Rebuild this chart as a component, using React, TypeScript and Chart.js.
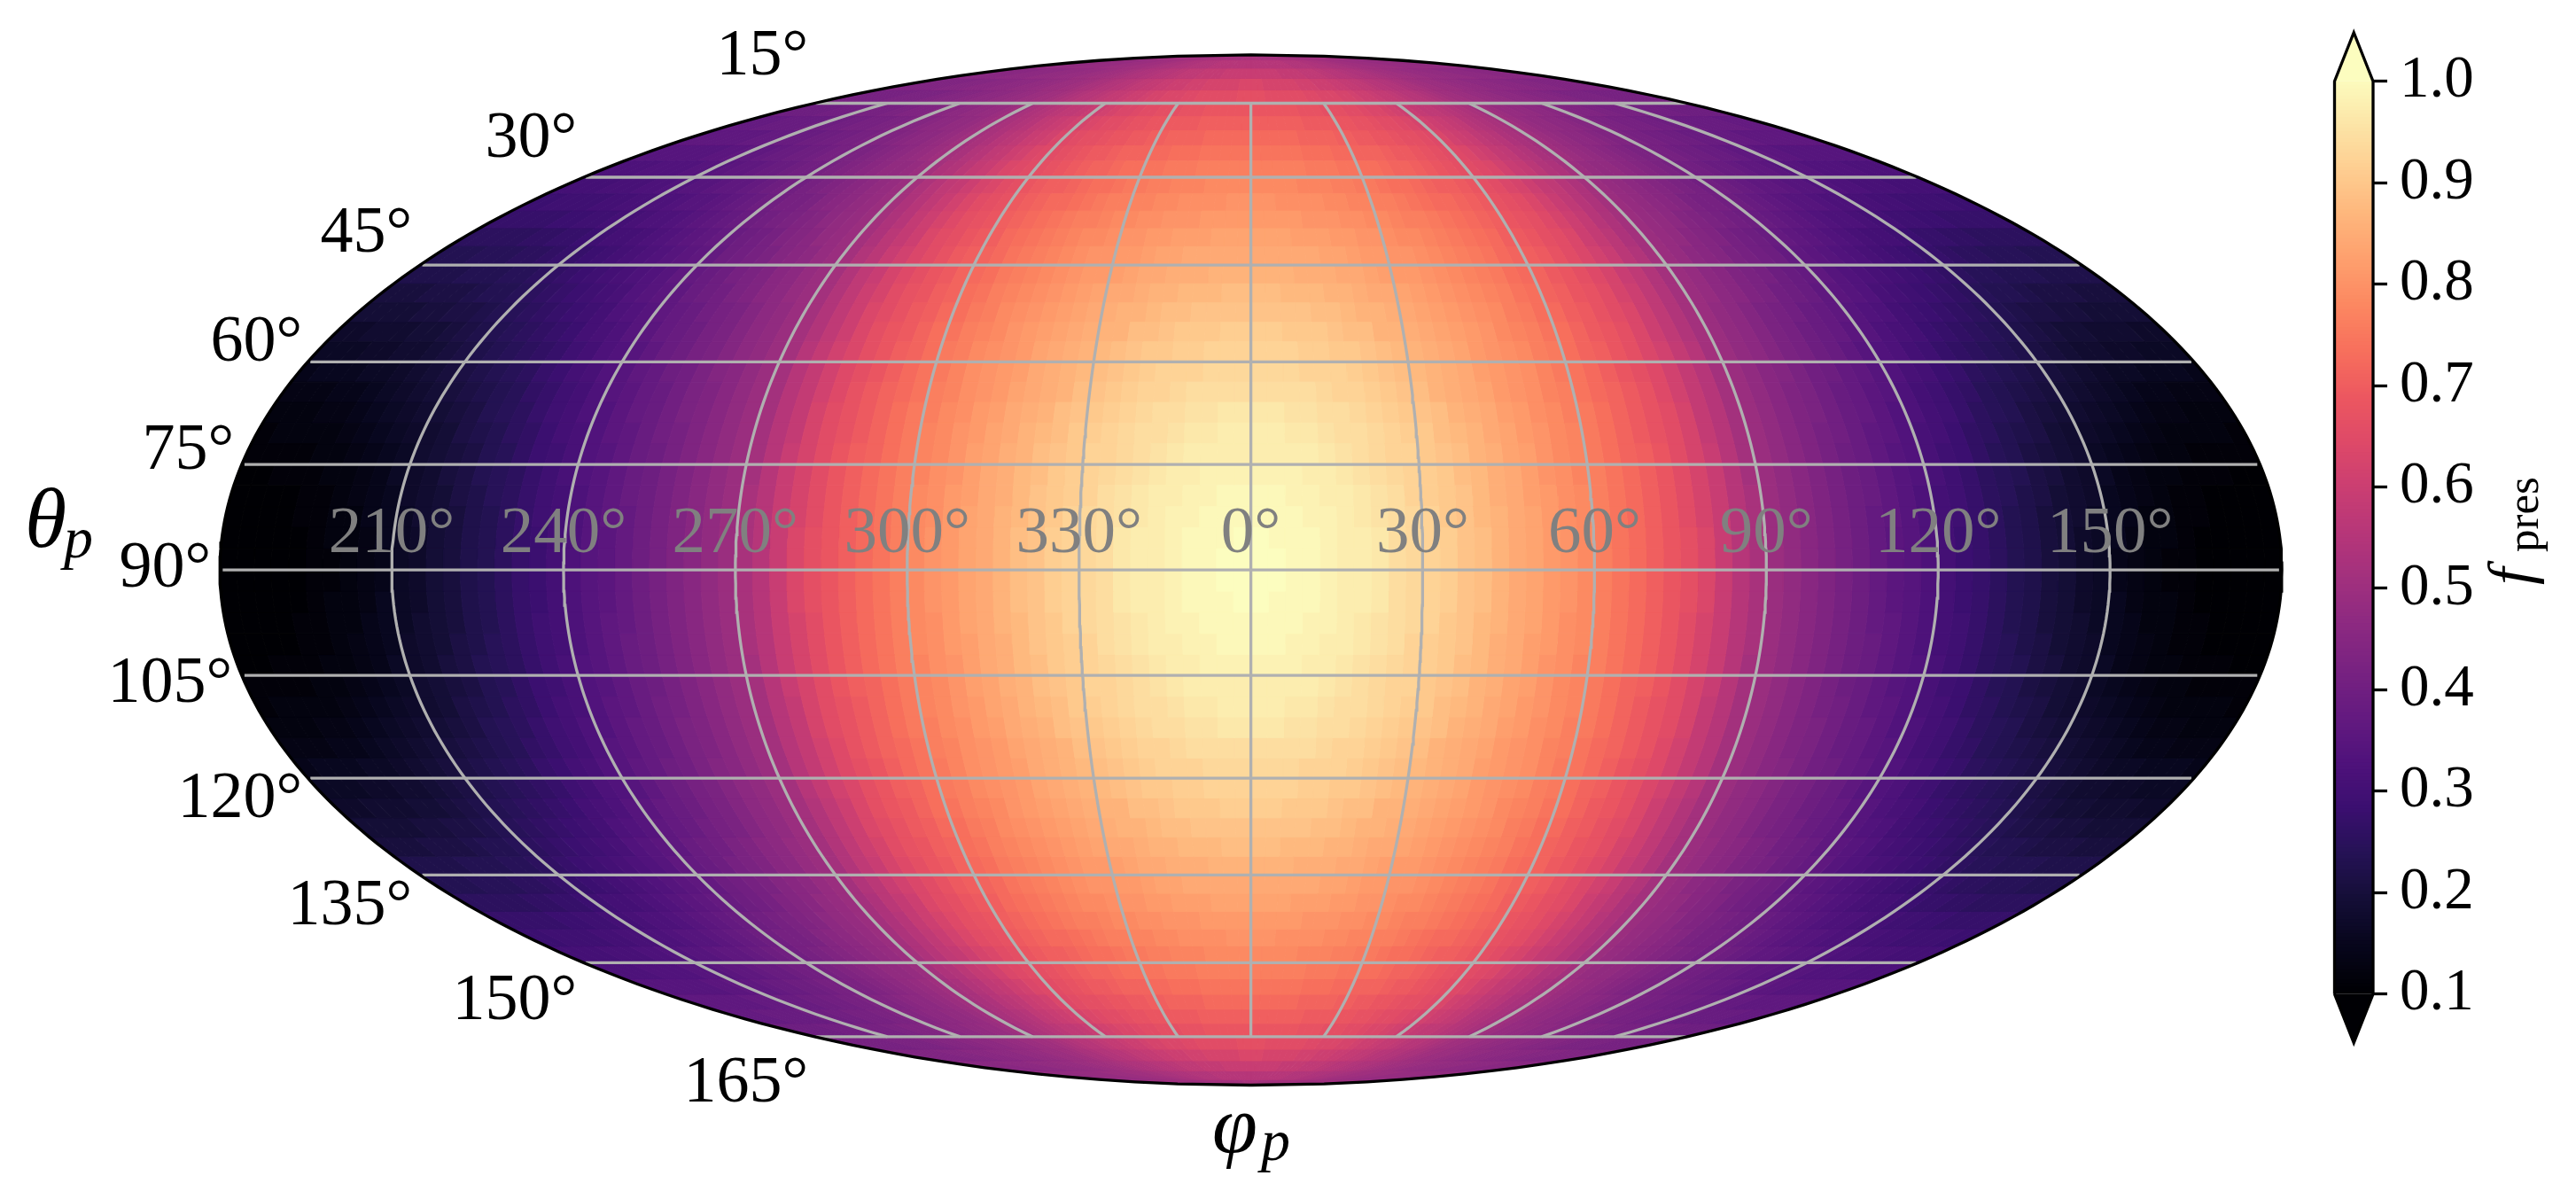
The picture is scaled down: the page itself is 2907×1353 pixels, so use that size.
import React, { useEffect, useRef } from "react";
import { Chart, registerables } from "chart.js";

Chart.register(...registerables);

// ---------- data (one quadrant in 3-degree cells, the map mirrors across both axes) ----------
const latBandDeg = 3;
const lonBandDeg = 3;
const fPres00 = [1.00,1.00,.99,.99,.98,.97,.97,.96,.94,.93,.92,.91,.89,.88,.86,.84,.83,.81,.80,.78,.76,.74,.72,.70,.68,.66,.63,.59,.55,.52,.49,.47,.45,.43,.41,.39,.37,.35,.34,.32,.30,.28,.27,.25,.23,.22,.20,.19,.17,.16,.14,.13,.12,.11,.11,.10,.10,.09,.09,.09];
const fPres03 = [1.00,.99,.99,.99,.98,.97,.97,.96,.94,.93,.92,.91,.89,.88,.86,.84,.83,.81,.80,.78,.76,.74,.72,.70,.68,.66,.63,.59,.55,.52,.49,.47,.45,.43,.41,.39,.37,.35,.34,.32,.30,.28,.27,.25,.23,.22,.20,.19,.17,.16,.15,.13,.12,.12,.11,.10,.10,.09,.09,.09];
const fPres06 = [.99,.99,.99,.98,.98,.97,.96,.95,.94,.93,.92,.90,.89,.87,.86,.84,.83,.81,.79,.78,.76,.74,.72,.70,.68,.65,.62,.59,.55,.52,.49,.47,.45,.43,.41,.39,.37,.36,.34,.32,.30,.29,.27,.25,.23,.22,.20,.19,.18,.16,.15,.14,.12,.12,.11,.11,.10,.10,.09,.09];
const fPres09 = [.99,.99,.98,.98,.97,.97,.96,.95,.94,.92,.91,.90,.89,.87,.85,.84,.82,.81,.79,.78,.76,.74,.72,.70,.68,.65,.62,.59,.55,.52,.49,.47,.45,.43,.41,.39,.38,.36,.34,.32,.30,.29,.27,.25,.24,.22,.21,.19,.18,.17,.15,.14,.13,.12,.11,.11,.10,.10,.10,.10];
const fPres12 = [.98,.98,.98,.97,.97,.96,.95,.94,.93,.92,.91,.90,.88,.87,.85,.84,.82,.80,.79,.77,.76,.74,.72,.70,.68,.65,.62,.59,.55,.51,.49,.47,.45,.43,.41,.39,.38,.36,.34,.33,.31,.29,.27,.25,.24,.23,.21,.20,.18,.17,.16,.14,.13,.12,.12,.11,.11,.11,.10,.10];
const fPres15 = [.97,.97,.97,.97,.96,.95,.94,.93,.92,.92,.90,.89,.88,.86,.85,.83,.82,.80,.78,.77,.75,.73,.71,.70,.68,.65,.62,.59,.55,.51,.49,.47,.45,.43,.41,.39,.38,.36,.34,.33,.31,.29,.28,.26,.24,.23,.21,.20,.19,.18,.16,.15,.14,.13,.12,.12,.11,.11,.11,.11];
const fPres18 = [.97,.97,.96,.96,.95,.94,.94,.93,.92,.91,.90,.88,.87,.86,.84,.83,.81,.80,.78,.77,.75,.73,.71,.69,.67,.65,.62,.58,.55,.51,.49,.47,.45,.43,.41,.40,.38,.36,.35,.33,.31,.30,.28,.26,.25,.23,.22,.21,.19,.18,.17,.16,.15,.14,.13,.12,.12,.12,.12,.11];
const fPres21 = [.96,.96,.95,.95,.94,.94,.93,.92,.91,.90,.89,.88,.86,.85,.84,.82,.81,.79,.78,.76,.75,.73,.71,.69,.67,.65,.62,.58,.55,.51,.49,.47,.45,.43,.42,.40,.38,.37,.35,.33,.32,.30,.29,.27,.25,.24,.23,.21,.20,.19,.18,.17,.16,.15,.14,.13,.13,.12,.12,.12];
const fPres24 = [.94,.94,.94,.94,.93,.92,.92,.91,.90,.89,.88,.86,.85,.84,.83,.81,.80,.79,.77,.76,.74,.72,.71,.69,.67,.64,.61,.58,.55,.51,.49,.47,.45,.43,.42,.40,.38,.37,.35,.34,.32,.30,.29,.27,.26,.24,.23,.22,.21,.20,.19,.18,.17,.16,.15,.14,.14,.13,.13,.13];
const fPres27 = [.93,.93,.93,.92,.92,.92,.91,.90,.89,.88,.87,.86,.85,.84,.82,.81,.80,.79,.77,.75,.74,.72,.70,.68,.66,.64,.61,.58,.55,.51,.49,.47,.45,.44,.42,.40,.39,.37,.36,.34,.33,.31,.30,.28,.27,.25,.24,.23,.22,.21,.20,.19,.18,.17,.16,.16,.15,.15,.15,.14];
const fPres30 = [.92,.92,.92,.91,.91,.90,.90,.89,.88,.87,.86,.85,.84,.83,.81,.80,.79,.78,.76,.75,.73,.71,.70,.68,.66,.63,.61,.58,.55,.51,.49,.47,.46,.44,.42,.41,.39,.38,.36,.34,.33,.32,.30,.29,.27,.26,.25,.24,.23,.22,.21,.20,.19,.18,.18,.17,.17,.16,.16,.16];
const fPres33 = [.91,.91,.90,.90,.90,.89,.88,.88,.86,.86,.85,.84,.83,.82,.81,.80,.78,.77,.76,.74,.73,.71,.69,.68,.66,.63,.60,.57,.54,.51,.49,.47,.46,.44,.42,.41,.39,.38,.37,.35,.34,.32,.31,.30,.28,.27,.26,.25,.24,.23,.22,.21,.20,.19,.19,.18,.18,.18,.17,.17];
const fPres36 = [.89,.89,.89,.89,.88,.88,.87,.86,.86,.85,.84,.83,.82,.81,.80,.79,.78,.76,.75,.73,.72,.70,.69,.67,.65,.63,.60,.57,.54,.51,.49,.47,.46,.44,.42,.41,.40,.38,.37,.36,.34,.33,.32,.30,.29,.28,.27,.26,.25,.24,.23,.22,.21,.21,.20,.20,.19,.19,.19,.19];
const fPres39 = [.88,.88,.87,.87,.87,.86,.86,.85,.84,.84,.83,.82,.81,.80,.79,.78,.77,.76,.74,.73,.71,.70,.68,.67,.65,.62,.60,.57,.54,.51,.49,.48,.46,.45,.43,.42,.40,.39,.38,.36,.35,.34,.33,.31,.30,.29,.28,.27,.26,.25,.24,.23,.23,.22,.21,.21,.21,.20,.20,.20];
const fPres42 = [.86,.86,.86,.85,.85,.85,.84,.84,.83,.82,.81,.81,.80,.79,.78,.77,.76,.75,.73,.72,.71,.69,.68,.66,.64,.62,.59,.57,.54,.51,.49,.48,.46,.45,.43,.42,.41,.39,.38,.37,.36,.34,.33,.32,.31,.30,.29,.28,.27,.26,.25,.24,.24,.23,.23,.23,.22,.22,.22,.22];
const fPres45 = [.84,.84,.84,.84,.84,.83,.83,.82,.81,.81,.80,.80,.79,.78,.77,.76,.75,.74,.72,.71,.70,.69,.67,.65,.63,.61,.59,.56,.54,.51,.49,.48,.46,.45,.44,.42,.41,.40,.39,.37,.36,.35,.34,.33,.32,.31,.30,.29,.28,.27,.27,.26,.25,.25,.24,.24,.24,.23,.23,.23];
const fPres48 = [.83,.83,.83,.82,.82,.82,.81,.81,.80,.80,.79,.78,.78,.77,.76,.75,.74,.73,.72,.70,.69,.68,.66,.65,.63,.60,.58,.56,.53,.51,.49,.48,.47,.45,.44,.43,.41,.40,.39,.38,.37,.36,.35,.34,.33,.32,.31,.30,.30,.29,.28,.27,.27,.26,.26,.25,.25,.25,.25,.25];
const fPres51 = [.81,.81,.81,.81,.80,.80,.80,.79,.79,.78,.78,.77,.76,.76,.75,.74,.73,.72,.71,.70,.68,.67,.66,.64,.62,.60,.58,.55,.53,.51,.49,.48,.47,.46,.44,.43,.42,.41,.40,.39,.38,.37,.36,.35,.34,.33,.32,.32,.31,.30,.30,.29,.29,.28,.28,.27,.27,.27,.27,.27];
const fPres54 = [.80,.80,.79,.79,.79,.79,.78,.78,.77,.77,.76,.76,.75,.74,.73,.72,.72,.71,.70,.69,.67,.66,.65,.63,.61,.59,.57,.55,.53,.51,.49,.48,.47,.46,.45,.44,.42,.41,.41,.40,.39,.38,.37,.36,.35,.34,.34,.33,.32,.32,.31,.31,.30,.30,.29,.29,.29,.29,.28,.28];
const fPres57 = [.78,.78,.78,.78,.77,.77,.77,.76,.76,.75,.75,.74,.73,.73,.72,.71,.70,.70,.69,.68,.66,.65,.63,.62,.60,.58,.57,.55,.53,.51,.49,.48,.47,.46,.45,.44,.43,.42,.41,.40,.40,.39,.38,.37,.36,.36,.35,.34,.34,.33,.33,.32,.32,.31,.31,.31,.30,.30,.30,.30];
const fPres60 = [.76,.76,.76,.76,.76,.75,.75,.75,.74,.74,.73,.73,.72,.71,.71,.70,.69,.68,.67,.66,.65,.64,.63,.61,.59,.58,.56,.54,.53,.51,.49,.48,.47,.47,.46,.45,.44,.43,.42,.41,.40,.40,.39,.38,.38,.37,.36,.36,.35,.34,.34,.34,.33,.33,.33,.33,.32,.32,.32,.32];
const fPres63 = [.74,.74,.74,.74,.74,.73,.73,.73,.72,.72,.71,.71,.71,.70,.69,.69,.68,.67,.66,.65,.64,.63,.61,.60,.58,.57,.55,.54,.52,.51,.50,.49,.48,.47,.46,.45,.44,.43,.42,.42,.41,.41,.40,.39,.39,.38,.38,.37,.36,.36,.36,.35,.35,.34,.34,.34,.34,.34,.34,.34];
const fPres66 = [.72,.72,.72,.72,.72,.71,.71,.71,.71,.70,.70,.69,.69,.68,.68,.67,.66,.66,.65,.64,.63,.61,.60,.59,.57,.56,.55,.53,.52,.51,.50,.49,.48,.47,.46,.46,.45,.44,.43,.43,.42,.41,.41,.40,.40,.39,.39,.38,.38,.38,.37,.37,.37,.36,.36,.36,.36,.36,.36,.35];
const fPres69 = [.70,.70,.70,.70,.70,.70,.69,.69,.69,.69,.68,.68,.67,.67,.66,.65,.65,.64,.63,.62,.61,.60,.59,.58,.57,.55,.54,.53,.52,.51,.50,.49,.48,.47,.47,.46,.46,.45,.44,.44,.43,.42,.42,.41,.41,.41,.40,.40,.39,.39,.39,.38,.38,.38,.38,.38,.37,.37,.37,.37];
const fPres72 = [.68,.68,.68,.68,.68,.68,.67,.67,.67,.66,.66,.66,.65,.65,.64,.63,.63,.62,.61,.60,.59,.58,.57,.57,.56,.55,.54,.53,.52,.50,.50,.49,.48,.48,.47,.47,.46,.46,.45,.45,.44,.43,.43,.43,.42,.42,.41,.41,.41,.41,.40,.40,.40,.40,.39,.39,.39,.39,.39,.39];
const fPres75 = [.66,.66,.65,.65,.65,.65,.65,.65,.64,.64,.63,.63,.63,.62,.62,.61,.60,.60,.59,.58,.58,.57,.56,.55,.55,.54,.53,.52,.51,.50,.50,.49,.49,.48,.48,.47,.47,.46,.46,.46,.45,.45,.44,.44,.44,.43,.43,.42,.42,.42,.42,.42,.41,.41,.41,.41,.41,.41,.41,.41];
const fPres78 = [.63,.63,.62,.62,.62,.62,.62,.62,.61,.61,.61,.60,.60,.60,.59,.59,.58,.58,.57,.57,.56,.55,.55,.54,.54,.53,.52,.52,.51,.50,.50,.49,.49,.49,.48,.48,.47,.47,.47,.46,.46,.46,.46,.45,.45,.45,.45,.44,.44,.44,.44,.43,.43,.43,.43,.43,.43,.43,.43,.43];
const fPres81 = [.59,.59,.59,.59,.59,.59,.58,.58,.58,.58,.58,.57,.57,.57,.57,.56,.56,.55,.55,.55,.54,.54,.53,.53,.53,.52,.52,.51,.51,.50,.50,.50,.49,.49,.49,.48,.48,.48,.48,.47,.47,.47,.47,.47,.46,.46,.46,.46,.46,.46,.45,.45,.45,.45,.45,.45,.45,.45,.45,.45];
const fPres84 = [.55,.55,.55,.55,.55,.55,.55,.55,.55,.55,.55,.54,.54,.54,.54,.54,.54,.53,.53,.53,.53,.52,.52,.52,.52,.51,.51,.51,.50,.50,.50,.50,.50,.49,.49,.49,.49,.49,.49,.48,.48,.48,.48,.48,.48,.48,.48,.47,.47,.47,.47,.47,.47,.47,.47,.47,.47,.47,.47,.47];
const fPres87 = [.52,.52,.52,.52,.51,.51,.51,.51,.51,.51,.51,.51,.51,.51,.51,.51,.51,.51,.51,.51,.51,.50,.50,.50,.50,.50,.50,.50,.50,.50,.50,.50,.50,.50,.50,.50,.50,.50,.50,.49,.49,.49,.49,.49,.49,.49,.49,.49,.49,.49,.49,.49,.49,.49,.49,.49,.49,.49,.49,.49];
const fPresRows = [fPres00,fPres03,fPres06,fPres09,fPres12,fPres15,fPres18,fPres21,fPres24,fPres27,fPres30,fPres33,fPres36,fPres39,fPres42,fPres45,fPres48,fPres51,fPres54,fPres57,fPres60,fPres63,fPres66,fPres69,fPres72,fPres75,fPres78,fPres81,fPres84,fPres87];

const latGridDeg = [-75,-60,-45,-30,-15,0,15,30,45,60,75];
const lonGridDeg = [-150,-120,-90,-60,-30,0,30,60,90,120,150];
const lonTickLabels = ["210°","240°","270°","300°","330°","0°","30°","60°","90°","120°","150°"];
const latTickLabels = ["15°","30°","45°","60°","75°","90°","105°","120°","135°","150°","165°"];
const colorbarTicks = [0.1,0.2,0.3,0.4,0.5,0.6,0.7,0.8,0.9,1.0];

// ---------- style and layout ----------
const W = 2907, H = 1353;
const CX = 1411.6, CY = 643.2, AX = 581.75, AY = 581.3;
const SERIF = '"Liberation Serif"';
const GRID = "#b0b0b0";
const latLabelPx: [number, number][] = [[912,59],[651,152],[465,259],[341,382],[264,504],[238,637],[262,767],[341,897],[465,1018],[651,1125],[912,1218]];
const MAGMA = ["#000004","#07061c","#140e36","#251255","#3b0f70","#4f127b","#641a80","#782281","#8c2981","#a1307e","#b63679","#ca3e72","#de4968","#ec5760","#f76f5c","#fc8761","#fe9f6d","#feb67c","#fece91","#fce5a7","#fcfdbf"];
const hex = (s: string) => [1,3,5].map(i => parseInt(s.slice(i,i+2),16));
function magma(f: number): string {
  const t = Math.min(1, Math.max(0, (f - 0.1) / 0.9)) * (MAGMA.length - 1);
  const i = Math.min(MAGMA.length - 2, Math.floor(t));
  const a = hex(MAGMA[i]), b = hex(MAGMA[i+1]), u = t - i;
  return `rgb(${a.map((v,k)=>Math.round(v+(b[k]-v)*u)).join(",")})`;
}

// ---------- Mollweide projection into the chart's data space (x in [-2,2], y in [-1,1]) ----------
const thetaCache = new Map<number, number>();
function auxTheta(latDeg: number) {
  const hit = thetaCache.get(latDeg);
  if (hit !== undefined) return hit;
  const phi = latDeg * Math.PI / 180;
  let th = phi;
  if (Math.abs(latDeg) >= 90) th = Math.sign(latDeg) * Math.PI / 2;
  else for (let i = 0; i < 60; i++) {
    const d = (2*th + Math.sin(2*th) - Math.PI*Math.sin(phi)) / (2 + 2*Math.cos(2*th));
    th -= d;
    if (Math.abs(d) < 1e-9) break;
  }
  thetaCache.set(latDeg, th);
  return th;
}
function project(lonDeg: number, latDeg: number) {
  const th = auxTheta(latDeg);
  return { x: (lonDeg / 180) * 2 * Math.cos(th), y: Math.sin(th) };
}

function cellPolygon(lon0: number, lon1: number, lat0: number, lat1: number) {
  const latM = (lat0 + lat1) / 2;
  const pts = [project(lon0, lat0), project(lon0, latM), project(lon0, lat1), project(lon1, lat1), project(lon1, latM), project(lon1, lat0)];
  pts.push(pts[0]);
  return pts;
}

function lineDs(data: {x:number;y:number}[], color: string, width: number) {
  return { data, showLine: true, fill: false, borderColor: color, borderWidth: width, pointRadius: 0, tension: 0, borderCapStyle: "butt", clip: false };
}
function shapeDs(data: {x:number;y:number}[], color: string, border = 1) {
  return { data, showLine: true, fill: "shape", backgroundColor: color, borderColor: border > 0 ? color : "rgba(0,0,0,0)", borderWidth: border, pointRadius: 0, tension: 0, clip: false };
}

function mapDatasets() {
  const out: any[] = [];
  // outline
  const outline: {x:number;y:number}[] = [];
  for (let lat = -90; lat <= 90; lat++) outline.push(project(180, lat));
  for (let lat = 89; lat >= -90; lat--) outline.push(project(-180, lat));
  out.push(lineDs(outline, "#000000", 3.3));
  // graticule
  for (const lat of latGridDeg) out.push(lineDs([project(-179.5, lat), project(179.5, lat)], GRID, 3.3));
  for (const lon of lonGridDeg) {
    const pts: {x:number;y:number}[] = [];
    for (let lat = -75; lat <= 75; lat++) pts.push(project(lon, lat));
    out.push(lineDs(pts, GRID, 3.3));
  }
  // cells
  fPresRows.forEach((row, r) => {
    const lat0 = r * latBandDeg, lat1 = lat0 + latBandDeg;
    row.forEach((v, c) => {
      const lon0 = c * lonBandDeg, lon1 = lon0 + lonBandDeg;
      const col = magma(v);
      out.push(shapeDs(cellPolygon(lon0, lon1, lat0, lat1), col));
      out.push(shapeDs(cellPolygon(-lon1, -lon0, lat0, lat1), col));
      out.push(shapeDs(cellPolygon(lon0, lon1, -lat1, -lat0), col));
      out.push(shapeDs(cellPolygon(-lon1, -lon0, -lat1, -lat0), col));
    });
  });
  return out;
}

const mapText = {
  id: "mapText",
  afterDatasetsDraw(chart: any) {
    const { ctx, scales: { x } } = chart;
    ctx.save();
    ctx.textBaseline = "alphabetic";
    ctx.fillStyle = "#808080";
    ctx.textAlign = "center";
    ctx.font = `75px ${SERIF}`;
    lonGridDeg.forEach((lon, i) => {
      ctx.fillText(lonTickLabels[i], x.getPixelForValue(project(lon, 0).x), 623);
    });
    ctx.fillStyle = "#000000";
    ctx.textAlign = "right";
    ctx.font = `74px ${SERIF}`;
    latTickLabels.forEach((s, i) => {
      const [px, py] = latLabelPx[i];
      ctx.fillText(s, px, py + 25);
    });
    ctx.textAlign = "left";
    ctx.font = `italic 96px ${SERIF}`;
    ctx.fillText("θ", 28, 617);
    ctx.font = `italic 66px ${SERIF}`;
    ctx.fillText("p", 72, 629);
    ctx.font = `italic 92px ${SERIF}`;
    ctx.fillText("φ", 1368, 1300);
    ctx.font = `italic 66px ${SERIF}`;
    ctx.fillText("p", 1423, 1309);
    ctx.restore();
  },
};

const colorbarText = {
  id: "colorbarText",
  afterDraw(chart: any) {
    const { ctx } = chart;
    ctx.save();
    ctx.fillStyle = "#000000";
    ctx.textAlign = "left";
    ctx.textBaseline = "alphabetic";
    ctx.translate(2856 - 2600, 660);
    ctx.rotate(-Math.PI / 2);
    ctx.font = `italic 70px ${SERIF}`;
    ctx.fillText("f", 0, 0);
    ctx.font = `51px ${SERIF}`;
    ctx.fillText("pres", 37, 8);
    ctx.restore();
  },
};

const BAR_TOP = 91.7, BAR_BOTTOM = 1121.7, K = 0.9 / (BAR_BOTTOM - BAR_TOP);
const CB_LEFT = 2600, CB_W = W - CB_LEFT, AXIS_X = 2678, BAR_LEFT = 2634.5;

function colorbarDatasets() {
  const out: any[] = [];
  const apexTop = 1.0 + (BAR_TOP - 36.7) * K;
  const apexBottom = 0.1 - (1176.7 - BAR_BOTTOM) * K;
  out.push(lineDs([{x:0,y:0.1},{x:0,y:1},{x:0.5,y:apexTop},{x:1,y:1},{x:1,y:0.1},{x:0.5,y:apexBottom},{x:0,y:0.1}], "#000000", 3.3));
  out.push(shapeDs([{x:0,y:1},{x:0.5,y:apexTop},{x:1,y:1},{x:0,y:1}], magma(1), 0));
  out.push(shapeDs([{x:0,y:0.1},{x:0.5,y:apexBottom},{x:1,y:0.1},{x:0,y:0.1}], magma(0.1), 0));
  const levels = 256;
  for (let i = 0; i < levels; i++) {
    const lo = 0.1 + 0.9 * i / levels, hi = 0.1 + 0.9 * (i + 1) / levels;
    // each band runs under the next one, so no seams show between them
    const over = Math.min(1, hi + 0.9 / levels);
    out.push(shapeDs([{x:0,y:lo},{x:0,y:over},{x:1,y:over},{x:1,y:lo},{x:0,y:lo}], magma((lo + hi) / 2), 0));
  }
  return out;
}

export default function App() {
  const mapRef = useRef<HTMLCanvasElement>(null);
  const barRef = useRef<HTMLCanvasElement>(null);
  useEffect(() => {
    const base = {
      animation: false, responsive: false, devicePixelRatio: 1, events: [],
      layout: { padding: 0, autoPadding: false },
      plugins: { legend: { display: false }, tooltip: { enabled: false }, title: { display: false } },
    };
    const map = new Chart(mapRef.current!, {
      type: "scatter",
      data: { datasets: mapDatasets() },
      plugins: [mapText],
      options: {
        ...base,
        scales: {
          x: { type: "linear", display: false, min: -CX / AX, max: (W - CX) / AX },
          y: { type: "linear", display: false, min: -(H - CY) / AY, max: CY / AY },
        },
      },
    } as any);
    const bar = new Chart(barRef.current!, {
      type: "scatter",
      data: { datasets: colorbarDatasets() },
      plugins: [colorbarText],
      options: {
        ...base,
        scales: {
          x: { type: "linear", display: false, min: -(BAR_LEFT - CB_LEFT) / (AXIS_X - BAR_LEFT), max: 1 },
          y: {
            type: "linear", position: "right",
            min: 0.1 - (H - BAR_BOTTOM) * K, max: 1.0 + BAR_TOP * K,
            afterBuildTicks: (s: any) => { s.ticks = colorbarTicks.map(value => ({ value })); },
            afterFit: (s: any) => { s.width = W - AXIS_X; s.paddingTop = 0; s.paddingBottom = 0; },
            border: { display: false },
            grid: { drawOnChartArea: false, drawTicks: true, tickLength: 16, tickWidth: 3.3, tickColor: "#000000" },
            ticks: { autoSkip: false, maxRotation: 0, padding: 14, color: "#000000", font: { family: "Liberation Serif", size: 67 }, callback: (v: any) => Number(v).toFixed(1) },
          },
        },
      },
    } as any);
    return () => { map.destroy(); bar.destroy(); };
  }, []);
  return (
    <div style={{ position: "absolute", left: 0, top: 0, width: W, height: H, background: "#fff", overflow: "hidden" }}>
      <canvas ref={mapRef} width={W} height={H} style={{ position: "absolute", left: 0, top: 0 }} />
      <canvas ref={barRef} width={CB_W} height={H} style={{ position: "absolute", left: CB_LEFT, top: 0 }} />
    </div>
  );
}
